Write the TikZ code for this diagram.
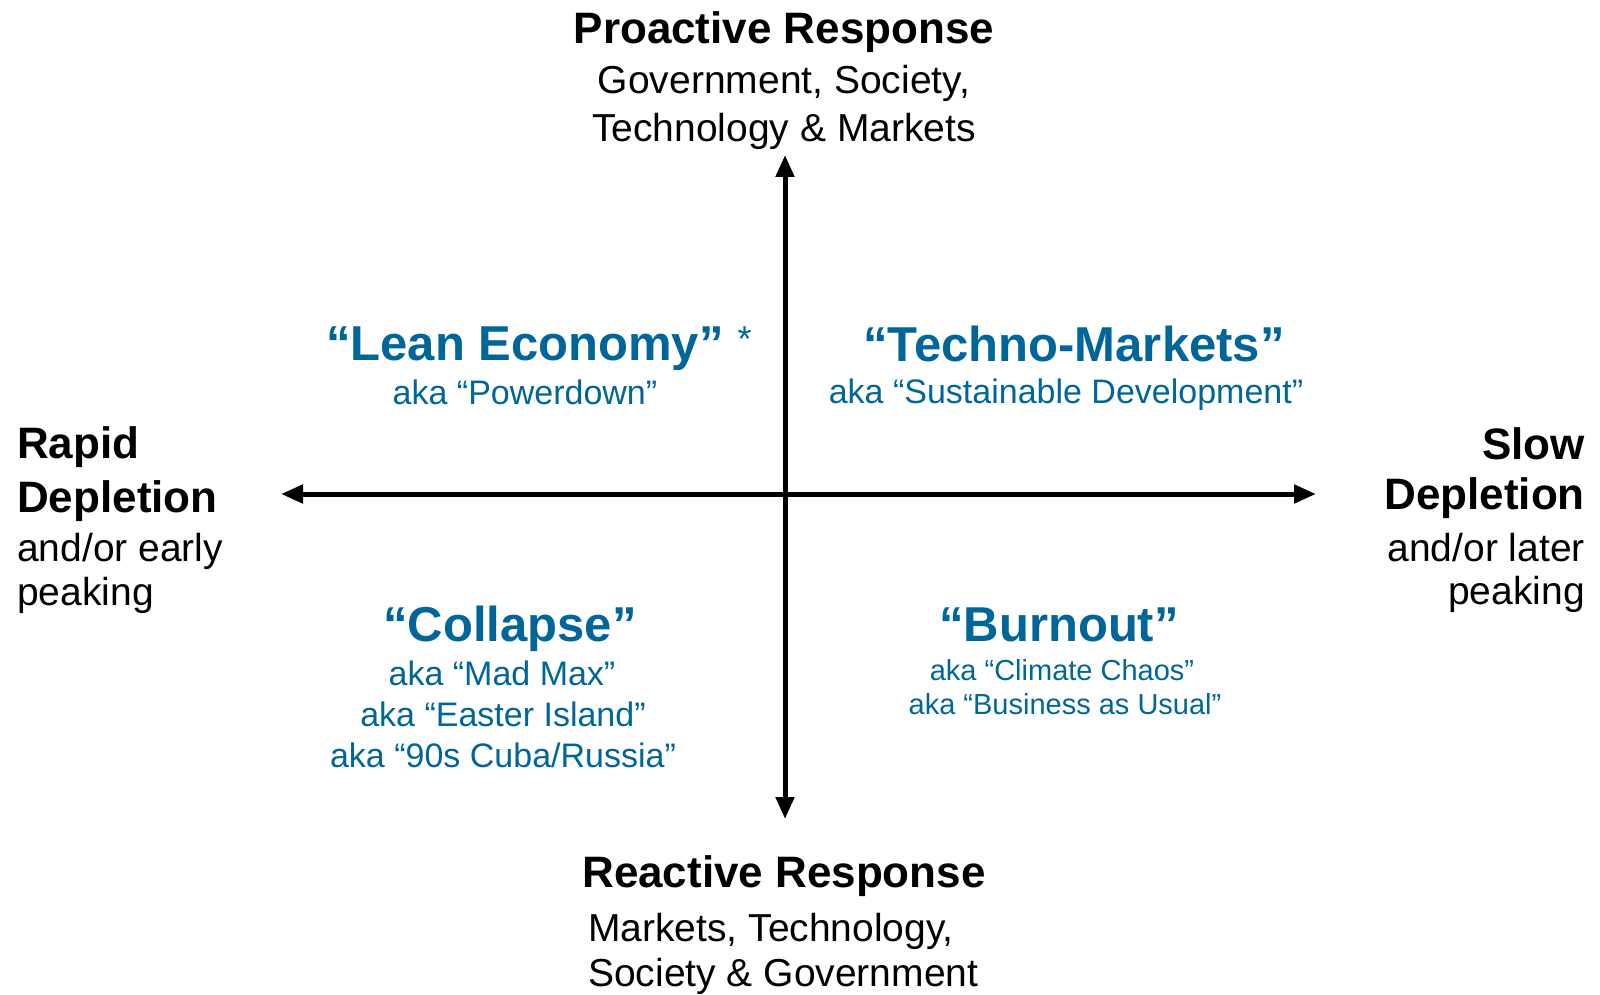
\documentclass[tikz,border=0pt]{standalone}
\usepackage{fontspec}
\setmainfont{Liberation Sans}
\usetikzlibrary{arrows.meta}
\definecolor{scenblue}{RGB}{0,102,153}
\tikzset{
  axis/.style={line width=5pt, {Triangle[length=22pt,width=18pt]}-{Triangle[length=22pt,width=18pt]}},
  head/.style={inner sep=0pt, font=\fontsize{44}{50}\selectfont\bfseries},
  sub/.style={inner sep=0pt, font=\fontsize{39}{44}\selectfont},
  qtitle/.style={inner sep=0pt, text=scenblue, font=\fontsize{49}{56}\selectfont\bfseries},
  qaka/.style={inner sep=0pt, text=scenblue, font=\fontsize{34}{40}\selectfont},
  qakasmall/.style={inner sep=0pt, text=scenblue, font=\fontsize{29}{34}\selectfont},
}
\begin{document}
\begin{tikzpicture}[x=1pt,y=-1pt]
\useasboundingbox (0,0) rectangle (1600,995);

% axes
\coordinate (west) at (281,494);
\coordinate (east) at (1316,494);
\coordinate (north) at (785,155);
\coordinate (south) at (785,819);
\draw[axis] (west) -- (east);
\draw[axis] (south) -- (north);

% top label
\node[head] (pro) at (784,32) {Proactive Response};
\node[sub] (pro1) at (784,83) {Government, Society,};
\node[sub] (pro2) at (784,131) {Technology \& Markets};

% bottom label
\node[head] (rea) at (784,876) {Reactive Response};
\node[sub, anchor=west] (rea1) at (588,931) {Markets, Technology,};
\node[sub, anchor=west] (rea2) at (588,976) {Society \& Government};

% left label
\node[head, anchor=west] (rap1) at (17,447) {Rapid};
\node[head, anchor=west] (rap2) at (17,501) {Depletion};
\node[sub, anchor=west] (rap3) at (17,551) {and/or early};
\node[sub, anchor=west] (rap4) at (17,595) {peaking};

% right label
\node[head, anchor=east] (slo1) at (1585,444) {Slow};
\node[head, anchor=east] (slo2) at (1585,498) {Depletion};
\node[sub, anchor=east] (slo3) at (1585,548) {and/or later};
\node[sub, anchor=east] (slo4) at (1585,594) {peaking};

% upper left quadrant
\node[qtitle, anchor=west] (lean) at (326,349) {“Lean Economy”\hspace{14pt}{\mdseries\fontsize{36}{40}\selectfont\raisebox{9pt}{*}}};
\node[qaka] (lean1) at (525,392) {aka “Powerdown”};

% upper right quadrant
\node[qtitle] (techno) at (1074,344) {“Techno-Markets”};
\node[qaka] (techno1) at (1066,395) {aka “Sustainable Development”};

% lower left quadrant
\node[qtitle] (collapse) at (510,629) {“Collapse”};
\node[qaka] (collapse1) at (502,673) {aka “Mad Max”};
\node[qaka] (collapse2) at (503,714) {aka “Easter Island”};
\node[qaka] (collapse3) at (503,755) {aka “90s Cuba/Russia”};

% lower right quadrant
\node[qtitle] (burnout) at (1059,625) {“Burnout”};
\node[qakasmall] (burnout1) at (1062,670) {aka “Climate Chaos”};
\node[qakasmall] (burnout2) at (1065,704) {aka “Business as Usual”};
\end{tikzpicture}
\end{document}
